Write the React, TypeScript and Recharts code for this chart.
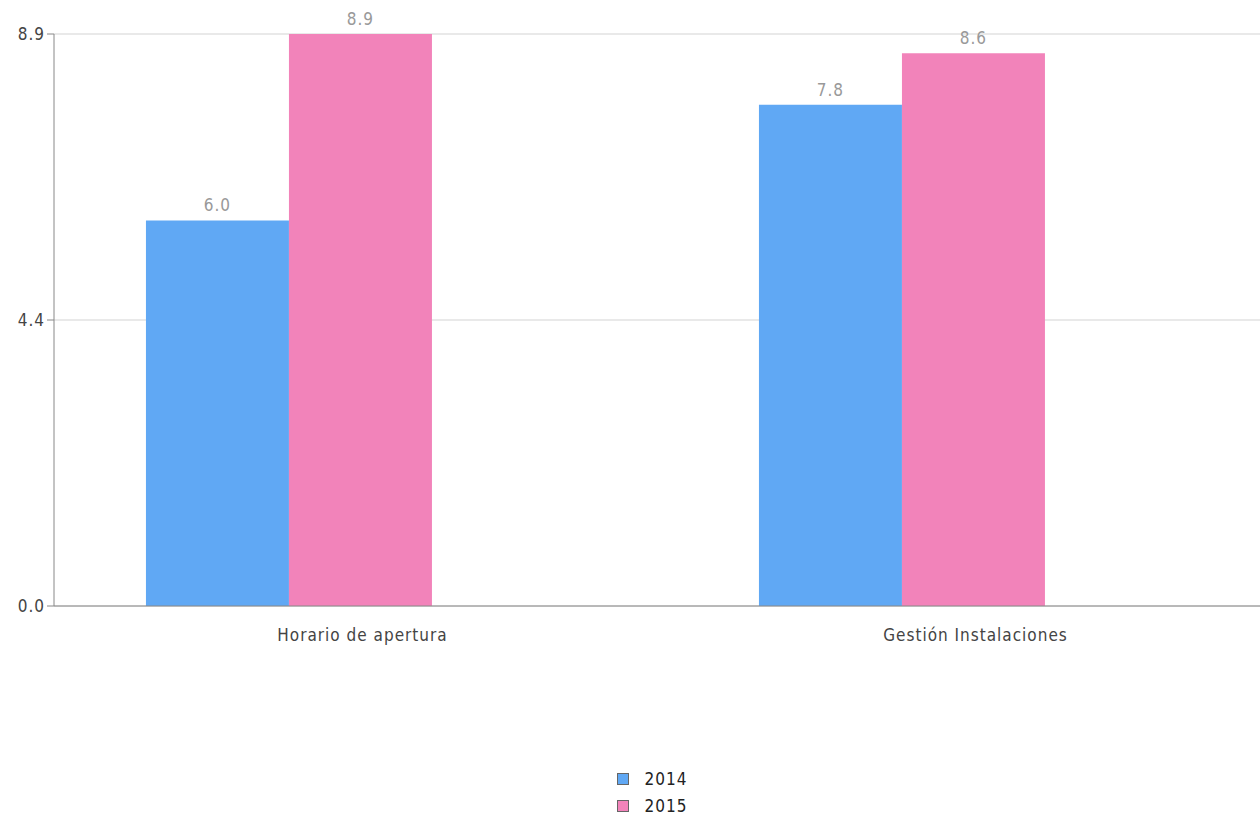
import React from 'react';
import { BarChart, Bar, XAxis, YAxis, CartesianGrid, Legend, LabelList } from 'recharts';

const categories = ['Horario de apertura', 'Gestión Instalaciones'];
const values2014 = [6.0, 7.8];
const values2015 = [8.9, 8.6];
const yTicks = [0, 4.45, 8.9];
const yTickLabels = ['0.0', '4.4', '8.9'];

const seriesList = [
  { key: 's2014', name: '2014', color: '#60A8F4' },
  { key: 's2015', name: '2015', color: '#F283BA' },
];

const data = categories.map((c, i) => ({
  name: c,
  s2014: values2014[i],
  s2015: values2015[i],
  spare: null,
}));

const font = '"DejaVu Sans Condensed", "DejaVu Sans", sans-serif';

const LegendBox = () => (
  <div style={{ display: 'flex', flexDirection: 'column', alignItems: 'center', marginLeft: 16 }}>
    <div>
      {seriesList.map(s => (
        <div key={s.key} style={{ display: 'flex', alignItems: 'center', height: 27, fontFamily: font, fontSize: 17, letterSpacing: 1, color: '#222' }}>
          <span style={{ display: 'inline-block', width: 10, height: 10, background: s.color, border: '1px solid #666', marginRight: 16 }} />
          {s.name}
        </div>
      ))}
    </div>
  </div>
);

const App: React.FC = () => {
  return (
    <div style={{ position: 'fixed', left: 0, top: 0, width: 1260, height: 819, overflow: 'hidden', background: '#fff' }}>
      <BarChart
        width={1300}
        height={825}
        data={data}
        margin={{ top: 34, right: 20, left: 8, bottom: 6 }}
        barCategoryGap="15%"
        barGap={0}
      >
        <CartesianGrid vertical={false} stroke="#e2e2e2" strokeWidth={1.5} />
        <XAxis
          dataKey="name"
          height={159}
          tickLine={false}
          axisLine={{ stroke: '#888' }}
          tick={{ fontSize: 17, fill: '#444', fontFamily: font, letterSpacing: 1, dy: 15, dx: 2 }}
        />
        <YAxis
          width={46}
          domain={[0, 8.9]}
          ticks={yTicks}
          tickSize={7}
          tickLine={{ stroke: '#888' }}
          axisLine={{ stroke: '#888' }}
          tick={{ fontSize: 17, fill: '#444', fontFamily: font, letterSpacing: 1 }}
          tickFormatter={(v: number) => yTickLabels[yTicks.indexOf(v)] ?? String(v)}
        />
        <Legend verticalAlign="bottom" content={<LegendBox />} />
        {seriesList.map(s => (
          <Bar key={s.key} dataKey={s.key} name={s.name} fill={s.color} isAnimationActive={false}>
            <LabelList
              dataKey={s.key}
              position="top"
              offset={9}
              fill="#999"
              fontSize={17}
              fontFamily={font}
              letterSpacing={1}
              formatter={(v: number) => v.toFixed(1)}
            />
          </Bar>
        ))}
        <Bar dataKey="spare" legendType="none" fill="transparent" isAnimationActive={false} />
      </BarChart>
    </div>
  );
};

export default App;
